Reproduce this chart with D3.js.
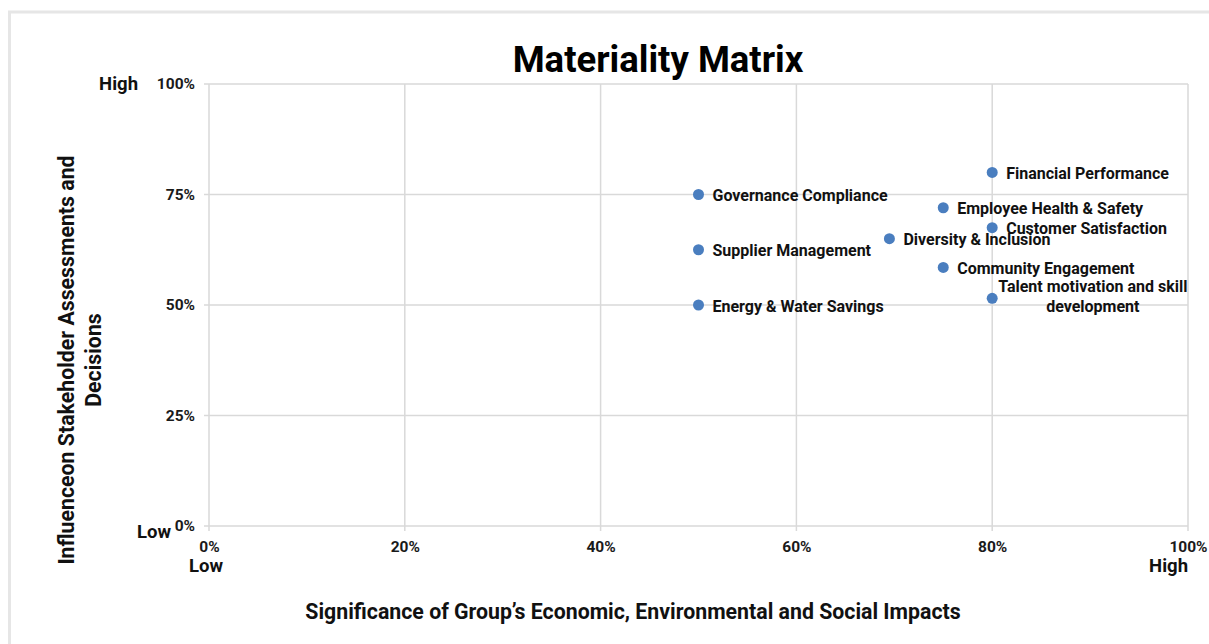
<!DOCTYPE html>
<html>
<head>
<meta charset="utf-8">
<script src="https://cdn.jsdelivr.net/npm/d3@7"></script>
<style>
  html, body { margin: 0; padding: 0; background: #ffffff; }
  svg { display: block; font-family: Roboto, "Liberation Sans", sans-serif; }
</style>
</head>
<body>
<svg id="chart" width="1209" height="644"></svg>
<script>
// ---- data ----
const topics = [
  "Financial Performance",
  "Governance Compliance",
  "Employee Health & Safety",
  "Customer Satisfaction",
  "Diversity & Inclusion",
  "Supplier Management",
  "Community Engagement",
  "Talent motivation and skill\ndevelopment",
  "Energy & Water Savings"
];
const significance = [0.80, 0.50, 0.75, 0.80, 0.695, 0.50, 0.75, 0.80, 0.50];
const influence    = [0.80, 0.75, 0.72, 0.675, 0.65, 0.625, 0.585, 0.515, 0.50];
const xTicks = [0, 0.2, 0.4, 0.6, 0.8, 1.0];
const yTicks = [0, 0.25, 0.5, 0.75, 1.0];
const titleText = "Materiality Matrix";
const xTitle = "Significance of Group\u2019s Economic, Environmental and Social Impacts";
const yTitleLines = ["Influenceon Stakeholder Assessments and", "Decisions"];
const lowText = "Low", highText = "High";

// ---- layout ----
const svg = d3.select("#chart");
const plot = { left: 209, right: 1188, top: 84, bottom: 526 };
const gridColor = "#d9d9d9";
const dotColor = "#4a7ebf";

svg.append("rect")
  .attr("x", 9.5).attr("y", 12).attr("width", 1400).attr("height", 800)
  .attr("fill", "none").attr("stroke", "#e6e6e6").attr("stroke-width", 3);

const x = d3.scaleLinear().domain([0, 1]).range([plot.left, plot.right]);
const y = d3.scaleLinear().domain([0, 1]).range([plot.bottom, plot.top]);
const pct = d3.format(".0%");

// grid
svg.append("g").selectAll("line").data(xTicks).join("line")
  .attr("x1", d => x(d)).attr("x2", d => x(d))
  .attr("y1", plot.top).attr("y2", plot.bottom + 5)
  .attr("stroke", gridColor).attr("stroke-width", 1.5);
svg.append("g").selectAll("line").data(yTicks).join("line")
  .attr("x1", plot.left - 5).attr("x2", plot.right)
  .attr("y1", d => y(d)).attr("y2", d => y(d))
  .attr("stroke", gridColor).attr("stroke-width", 1.5);

// axes (labels only, via d3 axis)
const xAxis = svg.append("g").attr("transform", `translate(0,${plot.bottom})`)
  .call(d3.axisBottom(x).tickValues(xTicks).tickFormat(pct).tickSize(0).tickPadding(15));
const yAxis = svg.append("g").attr("transform", `translate(${plot.left},0)`)
  .call(d3.axisLeft(y).tickValues(yTicks).tickFormat(pct).tickSize(0).tickPadding(14));
[xAxis, yAxis].forEach(g => {
  g.select(".domain").remove();
  g.selectAll("text").attr("fill", "#1a1a1a").attr("font-size", 15.5)
    .attr("font-weight", "bold").attr("font-family", "Roboto, sans-serif");
});

// Low / High labels
const axisWord = (t, px, py, anchor) => svg.append("text")
  .attr("x", px).attr("y", py).attr("text-anchor", anchor)
  .attr("font-size", 18.5).attr("font-weight", "bold").attr("fill", "#111")
  .attr("dominant-baseline", "central").text(t);
axisWord(highText, 138, y(1), "end");
axisWord(lowText, 171, y(0) + 6, "end");
axisWord(lowText, x(0) - 3, 566, "middle");
axisWord(highText, x(1), 566, "end");

// title
svg.append("text").attr("x", 658).attr("y", 72).attr("text-anchor", "middle")
  .attr("font-size", 36.5).attr("font-weight", "bold").attr("fill", "#000")
  .text(titleText);

// axis titles
svg.append("text").attr("x", 633).attr("y", 611).attr("text-anchor", "middle")
  .attr("dominant-baseline", "central")
  .attr("font-size", 21.3).attr("font-weight", "bold").attr("fill", "#111")
  .text(xTitle);
const yt = svg.append("text").attr("transform", "translate(66,360) rotate(-90)")
  .attr("text-anchor", "middle").attr("font-size", 21.3).attr("font-weight", "bold").attr("fill", "#111");
yTitleLines.forEach((l, i) => yt.append("tspan").attr("x", 0).attr("y", i * 27)
  .attr("dominant-baseline", "central").text(l));

// points
const pts = topics.map((t, i) => ({ t, sx: significance[i], iy: influence[i] }));
svg.append("g").selectAll("circle").data(pts).join("circle")
  .attr("cx", d => x(d.sx)).attr("cy", d => y(d.iy)).attr("r", 5.5)
  .attr("fill", dotColor);

// labels
const lg = svg.append("g");
pts.forEach(d => {
  const lines = d.t.split("\n");
  const px = x(d.sx), py = y(d.iy);
  if (lines.length === 1) {
    lg.append("text").attr("x", px + 14).attr("y", py + 1)
      .attr("dominant-baseline", "central")
      .attr("font-size", 16).attr("font-weight", "bold").attr("fill", "#111").text(lines[0]);
  } else {
    const t = lg.append("text").attr("font-size", 16).attr("font-weight", "bold")
      .attr("fill", "#111").attr("text-anchor", "middle");
    const tmp = t.append("tspan").text(lines[0]);
    const w = tmp.node().getComputedTextLength();
    tmp.remove();
    const cx = px + 6 + w / 2;
    lines.forEach((l, i) => t.append("tspan").attr("x", cx)
      .attr("y", py - 11.5 + i * 19.5).attr("dominant-baseline", "central").text(l));
  }
});
</script>
</body>
</html>
